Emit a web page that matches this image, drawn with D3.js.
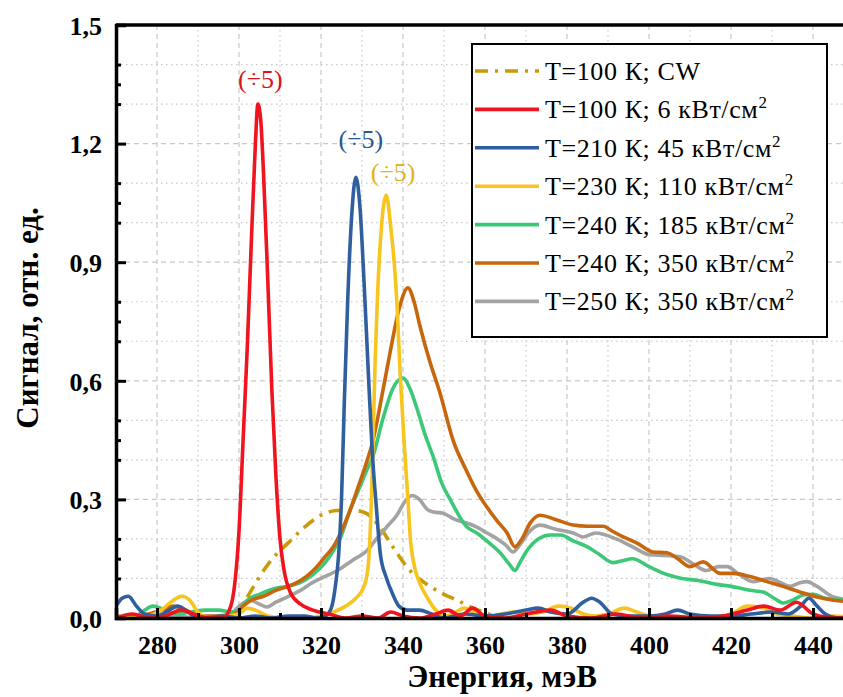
<!DOCTYPE html>
<html>
<head>
<meta charset="utf-8">
<script src="https://cdn.jsdelivr.net/npm/d3@7"></script>
<style>
  body { margin: 0; background: #fff; }
  svg { display: block; }
  svg text { font-family: "Liberation Serif", "DejaVu Serif", "Times New Roman", Times, serif; }
</style>
</head>
<body>
<div class="vis-holder"></div>
<script>
// spectra, [energy meV, signal a.u.]
const cw100 = [
  [297, 0.0], [300, 0.02], [303, 0.07], [306, 0.12], [309, 0.16], [312, 0.19], [316, 0.23],
  [320, 0.26], [324, 0.272], [328, 0.272], [331, 0.265], [334, 0.235], [337.5, 0.18],
  [341.7, 0.12], [346.6, 0.08], [350, 0.06], [353.2, 0.045], [357, 0.025], [360.5, 0.012], [363, 0.0]
];
const red6 = [
  [270, 0.0], [274, 0.01], [278, 0.0], [282, 0.005], [286, 0.02], [290, 0.005], [294, 0.0],
  [296, 0.0], [298, 0.03], [299, 0.09], [300, 0.22], [301, 0.45], [302, 0.68], [303, 0.95],
  [304, 1.2], [304.6, 1.30], [305.3, 1.26], [306, 1.12], [307, 0.86], [308, 0.58], [309, 0.36],
  [310, 0.2], [311, 0.12], [312.5, 0.065], [315, 0.035], [318, 0.02], [322, 0.01], [326, 0.0],
  [330, 0.005], [334, 0.0], [337, 0.015], [340, 0.005], [344, 0.0], [348, 0.01], [351, 0.02],
  [354, 0.005], [357, 0.025], [360, 0.005], [365, 0.0], [370, 0.01], [376, 0.02], [380, 0.005],
  [386, 0.0], [392, 0.01], [398, 0.0], [405, 0.005], [412, 0.0], [418, 0.005], [424, 0.02],
  [428, 0.03], [432, 0.02], [436, 0.04], [440, 0.01], [445, 0.0], [450, 0.0]
];
const blue45 = [
  [270, 0.03], [271.5, 0.05], [273, 0.055], [275, 0.03], [277, 0.01], [280, 0.005], [283, 0.02],
  [285, 0.03], [287, 0.02], [289, 0.005], [292, 0.0], [296, 0.005], [300, 0.0], [304, 0.005],
  [308, 0.0], [312, 0.005], [316, 0.005], [319, 0.0], [321, 0.005], [322.5, 0.025], [323.5, 0.08],
  [324.3, 0.16], [325, 0.3], [325.7, 0.55], [326.5, 0.8], [327.5, 1.02], [328.5, 1.115],
  [329.5, 1.04], [330.5, 0.85], [331.5, 0.63], [332.5, 0.42], [333.5, 0.28], [334.5, 0.16],
  [336, 0.1], [337.5, 0.06], [339, 0.03], [341, 0.02], [344, 0.02], [347, 0.01], [350, 0.0],
  [355, 0.01], [360, 0.005], [365, 0.01], [370, 0.02], [373, 0.025], [376, 0.015], [380, 0.01],
  [384, 0.04], [386, 0.05], [388, 0.04], [391, 0.01], [395, 0.005], [400, 0.005], [404, 0.01],
  [407, 0.02], [410, 0.01], [415, 0.005], [420, 0.005], [425, 0.01], [430, 0.015], [434, 0.01],
  [437, 0.03], [439, 0.05], [441, 0.03], [443, 0.01], [446, 0.0], [450, 0.0]
];
const yellow110 = [
  [270, 0.005], [274, 0.0], [278, 0.005], [281, 0.02], [284, 0.045], [286, 0.055], [288, 0.045],
  [290, 0.015], [293, 0.0], [297, 0.005], [300, 0.01], [302, 0.025], [304, 0.02], [307, 0.005],
  [311, 0.0], [316, 0.0], [320, 0.005], [323, 0.015], [326, 0.03], [328.5, 0.05], [330.5, 0.08],
  [331.5, 0.13], [332.3, 0.3], [333.2, 0.65], [333.8, 0.82], [334.6, 0.97], [335.9, 1.07],
  [337, 0.99], [338, 0.88], [338.6, 0.78], [339.3, 0.62], [340.3, 0.44], [341.2, 0.3],
  [341.8, 0.2], [342.8, 0.13], [344, 0.09], [346, 0.05], [348, 0.02], [350, 0.005], [352, 0.01],
  [355, 0.025], [358, 0.01], [361, 0.0], [364, 0.01], [367, 0.015], [370, 0.01], [374, 0.015],
  [378, 0.03], [381, 0.025], [384, 0.01], [387, 0.005], [390, 0.01], [394, 0.025], [397, 0.015],
  [400, 0.005], [405, 0.0], [410, 0.005], [415, 0.0], [420, 0.01], [424, 0.03], [428, 0.025],
  [431, 0.01], [435, 0.005], [440, 0.0], [445, 0.005], [450, 0.0]
];
const green185 = [
  [270, 0.005], [274, 0.0], [277, 0.02], [279, 0.03], [282, 0.02], [285, 0.01], [288, 0.015],
  [292, 0.02], [295, 0.02], [298, 0.015], [300, 0.02], [302, 0.045], [305, 0.06], [309, 0.075],
  [312, 0.08], [315, 0.09], [318, 0.11], [321, 0.14], [323, 0.17], [325, 0.21], [327, 0.27],
  [329, 0.32], [331, 0.37], [332.7, 0.41], [335, 0.5], [337.5, 0.58], [340, 0.607],
  [341.7, 0.58], [343.4, 0.53], [345.5, 0.46], [347.3, 0.41], [349.5, 0.34], [351.5, 0.3],
  [355.6, 0.23], [358, 0.215], [361, 0.19], [363.7, 0.165], [366, 0.135], [367.3, 0.12],
  [368.5, 0.14], [370.2, 0.17], [373, 0.2], [375.9, 0.21], [378.5, 0.21], [381.5, 0.195],
  [385, 0.18], [388, 0.16], [391.2, 0.14], [393.5, 0.145], [396, 0.15], [400, 0.13],
  [404.4, 0.11], [408, 0.1], [412, 0.095], [416.6, 0.085], [420, 0.08], [424.6, 0.07],
  [428, 0.065], [430.5, 0.05], [432.7, 0.038], [435, 0.045], [437.6, 0.058], [440, 0.06],
  [443, 0.05], [447.3, 0.045], [450, 0.04]
];
const orange350 = [
  [270, 0.005], [274, 0.0], [278, 0.01], [281, 0.02], [284, 0.03], [286, 0.025], [289, 0.01],
  [292, 0.005], [296, 0.005], [299, 0.01], [301, 0.03], [303, 0.045], [306, 0.055], [309, 0.07],
  [312, 0.08], [315, 0.095], [317, 0.11], [319, 0.13], [321, 0.155], [323, 0.18], [325, 0.22],
  [327, 0.27], [329, 0.33], [331, 0.39], [332.7, 0.45], [335, 0.57], [337, 0.68], [339, 0.78],
  [341.2, 0.835], [342.7, 0.8], [344.1, 0.74], [346.5, 0.65], [349, 0.57], [352.2, 0.45],
  [355.6, 0.37], [358, 0.32], [360.5, 0.28], [363, 0.245], [365.4, 0.215], [367.3, 0.18],
  [369, 0.2], [371, 0.24], [373.4, 0.26], [377, 0.25], [381.5, 0.235], [385, 0.232],
  [388.8, 0.232], [391, 0.22], [393.7, 0.205], [397, 0.19], [401, 0.167], [404.4, 0.165],
  [407, 0.15], [410, 0.13], [413.2, 0.142], [417.3, 0.113], [420.5, 0.113], [424.6, 0.105],
  [428.8, 0.092], [432.7, 0.08], [436.8, 0.066], [441, 0.053], [445, 0.045], [450, 0.04]
];
const gray350 = [
  [270, 0.0], [275, 0.005], [280, 0.01], [285, 0.005], [290, 0.0], [295, 0.005], [298, 0.01],
  [300, 0.03], [302.7, 0.045], [305, 0.035], [306.8, 0.028], [309, 0.04], [311.7, 0.053],
  [315, 0.07], [318, 0.09], [321, 0.105], [324, 0.12], [327.8, 0.147], [331.2, 0.17],
  [333.5, 0.2], [336, 0.23], [338.5, 0.26], [340.5, 0.295], [342.2, 0.31], [344, 0.3],
  [345.9, 0.275], [347.5, 0.268], [349.8, 0.265], [352.5, 0.25], [355.6, 0.24], [358, 0.23],
  [360.5, 0.215], [363, 0.2], [365, 0.185], [366.8, 0.167], [368.5, 0.185], [370.5, 0.215],
  [373.4, 0.235], [377, 0.225], [381.5, 0.215], [384, 0.205], [387, 0.215], [392, 0.2],
  [396, 0.18], [400.2, 0.16], [404, 0.158], [407.6, 0.155], [411, 0.135], [414, 0.12],
  [417, 0.13], [419, 0.13], [422, 0.11], [425.4, 0.092], [429.5, 0.1], [432, 0.09],
  [434.4, 0.08], [436.5, 0.088], [438.5, 0.092], [441, 0.08], [445, 0.053], [450, 0.045]
];

const seriesData = [cw100, red6, blue45, yellow110, green185, orange350, gray350];
const seriesTemp = ["T=100 К; CW", "T=100 К; 6", "T=210 К; 45", "T=230 К; 110",
                    "T=240 К; 185", "T=240 К; 350", "T=250 К; 350"];
const seriesHasPower = [false, true, true, true, true, true, true];
const seriesColors = ["#c99b06", "#f0141e", "#2f5f9e", "#f7c51e", "#3dc878", "#c8660d", "#a3a3a3"];

const xTicks = [280, 300, 320, 340, 360, 380, 400, 420, 440];
const xMinorTicks = [290, 310, 330, 350, 370, 390, 410, 430, 450];
const yTicks = [0, 0.3, 0.6, 0.9, 1.2, 1.5];
const yMinorTicks = [0.1, 0.15, 0.2, 0.4, 0.45, 0.5, 0.7, 0.75, 0.8, 1.0, 1.05, 1.1, 1.3, 1.35, 1.4];
const yGridMinor = [0.1, 0.2, 0.4, 0.5, 0.7, 0.8, 1.0, 1.1, 1.3, 1.4];

// "(÷5)" marks: [energy, signal] of the text baseline, colour index
const notes = [[305.2, 1.34, 1], [329.7, 1.19, 2], [337.6, 1.105, 3]];

const serif = "'Liberation Serif', 'DejaVu Serif', 'Times New Roman', Times, serif";
const width = 843;
const height = 697;
const m = { left: 116, top: 25, right: 854, bottom: 618 };

const svg = d3.select(".vis-holder").append("svg")
    .attr("width", width)
    .attr("height", height)
    .attr("font-family", serif);

const x = d3.scaleLinear().domain([270, 450]).range([m.left, m.right]);
const y = d3.scaleLinear().domain([0, 1.5]).range([m.bottom, m.top]);

const comma = v => d3.format(".1f")(v).replace(".", ",");

// grid
const grid = svg.append("g").attr("stroke", "#c8c8c8").attr("stroke-width", 1.2);
grid.selectAll(".vmaj").data(xTicks).enter().append("line")
    .attr("x1", d => x(d)).attr("x2", d => x(d))
    .attr("y1", m.top).attr("y2", m.bottom)
    .attr("stroke-dasharray", "5,4");
grid.selectAll(".vmin").data(xMinorTicks).enter().append("line")
    .attr("x1", d => x(d)).attr("x2", d => x(d))
    .attr("y1", m.top).attr("y2", m.bottom)
    .attr("stroke-dasharray", "1.5,3.5");
grid.selectAll(".hmaj").data(yTicks.slice(1, -1)).enter().append("line")
    .attr("y1", d => y(d)).attr("y2", d => y(d))
    .attr("x1", m.left).attr("x2", m.right)
    .attr("stroke-dasharray", "5,4");
grid.selectAll(".hmin").data(yGridMinor).enter().append("line")
    .attr("y1", d => y(d)).attr("y2", d => y(d))
    .attr("x1", m.left).attr("x2", m.right)
    .attr("stroke-dasharray", "1.5,3.5");

// curves
svg.append("clipPath").attr("id", "plot-clip")
  .append("rect")
    .attr("x", m.left).attr("y", m.top)
    .attr("width", m.right - m.left).attr("height", m.bottom - m.top);

const line = d3.line()
    .x(d => x(d[0]))
    .y(d => y(d[1]))
    .curve(d3.curveMonotoneX);

const drawOrder = [0, 6, 4, 5, 3, 2, 1];
svg.append("g").attr("clip-path", "url(#plot-clip)")
  .selectAll("path")
  .data(drawOrder)
  .enter().append("path")
    .attr("d", i => line(seriesData[i]))
    .attr("fill", "none")
    .attr("stroke", i => seriesColors[i])
    .attr("stroke-width", 3.6)
    .attr("stroke-linejoin", "round")
    .attr("stroke-dasharray", i => i === 0 ? "13,7,3,7" : null);

// axes
const axisY = svg.append("g")
    .attr("transform", `translate(${m.left},0)`)
    .call(d3.axisLeft(y).tickValues(yTicks).tickFormat(comma).tickSize(-10).tickPadding(14));
svg.append("g")
    .attr("transform", `translate(${m.left},0)`)
    .call(d3.axisLeft(y).tickValues(yMinorTicks).tickFormat("").tickSize(-5))
    .call(g => g.select(".domain").remove());

const axisX = svg.append("g")
    .attr("transform", `translate(0,${m.bottom})`)
    .call(d3.axisBottom(x).tickValues(xTicks).tickFormat(d3.format("d")).tickSize(-10).tickPadding(14));
svg.append("g")
    .attr("transform", `translate(0,${m.bottom})`)
    .call(d3.axisBottom(x).tickValues(xMinorTicks).tickFormat("").tickSize(-5))
    .call(g => g.select(".domain").remove());

// d3 axes put sans-serif on their groups; reset to the serif face
svg.selectAll("g").attr("font-family", serif);
svg.selectAll(".tick line").attr("stroke", "#000").attr("stroke-width", 3);
svg.selectAll(".domain").attr("stroke", "#000").attr("stroke-width", 3.5);
svg.selectAll(".tick text")
    .attr("font-weight", "bold")
    .attr("font-size", 26)
    .attr("fill", "#000");
axisY.selectAll(".tick text").attr("dy", "0.36em");
axisX.selectAll(".tick text").attr("dy", "0.85em");

// frame
svg.append("line")
    .attr("x1", m.left).attr("x2", m.right)
    .attr("y1", m.top).attr("y2", m.top)
    .attr("stroke", "#000").attr("stroke-width", 3.5);
svg.append("line")
    .attr("x1", m.right).attr("x2", m.right)
    .attr("y1", m.top).attr("y2", m.bottom)
    .attr("stroke", "#000").attr("stroke-width", 3.5);

// titles
svg.append("text")
    .attr("x", 502).attr("y", 687)
    .attr("text-anchor", "middle")
    .attr("font-weight", "bold").attr("font-size", 31)
    .text("Энергия, мэВ");
svg.append("text")
    .attr("transform", "translate(38,318) rotate(-90)")
    .attr("text-anchor", "middle")
    .attr("font-weight", "bold").attr("font-size", 31)
    .text("Сигнал, отн. ед.");

// (÷5) notes
svg.selectAll(".note").data(notes).enter().append("text")
    .attr("x", d => x(d[0])).attr("y", d => y(d[1]))
    .attr("text-anchor", "middle")
    .attr("font-size", 26)
    .attr("fill", d => d3.color(seriesColors[d[2]]).darker(0.25))
    .text("(÷5)");

// legend
const lg = svg.append("g");
lg.append("rect")
    .attr("x", 472).attr("y", 44).attr("width", 355).attr("height", 293)
    .attr("fill", "#fff").attr("stroke", "#000").attr("stroke-width", 2);
const rows = lg.selectAll(".row").data(d3.range(seriesTemp.length)).enter().append("g")
    .attr("transform", i => `translate(0,${71 + i * 38.4})`);
rows.append("line")
    .attr("x1", 475).attr("x2", 539)
    .attr("stroke", i => seriesColors[i])
    .attr("stroke-width", 3.6)
    .attr("stroke-dasharray", i => i === 0 ? "13,7,3,7" : null);
const lt = rows.append("text")
    .attr("x", 545).attr("y", 9)
    .attr("font-size", 26)
    .attr("letter-spacing", 0.6);
lt.append("tspan").text(i => seriesTemp[i]);
lt.filter(i => seriesHasPower[i]).append("tspan").text(" кВт/см");
lt.filter(i => seriesHasPower[i]).append("tspan")
    .attr("dy", -10).attr("font-size", 17).text("2");
</script>
</body>
</html>
